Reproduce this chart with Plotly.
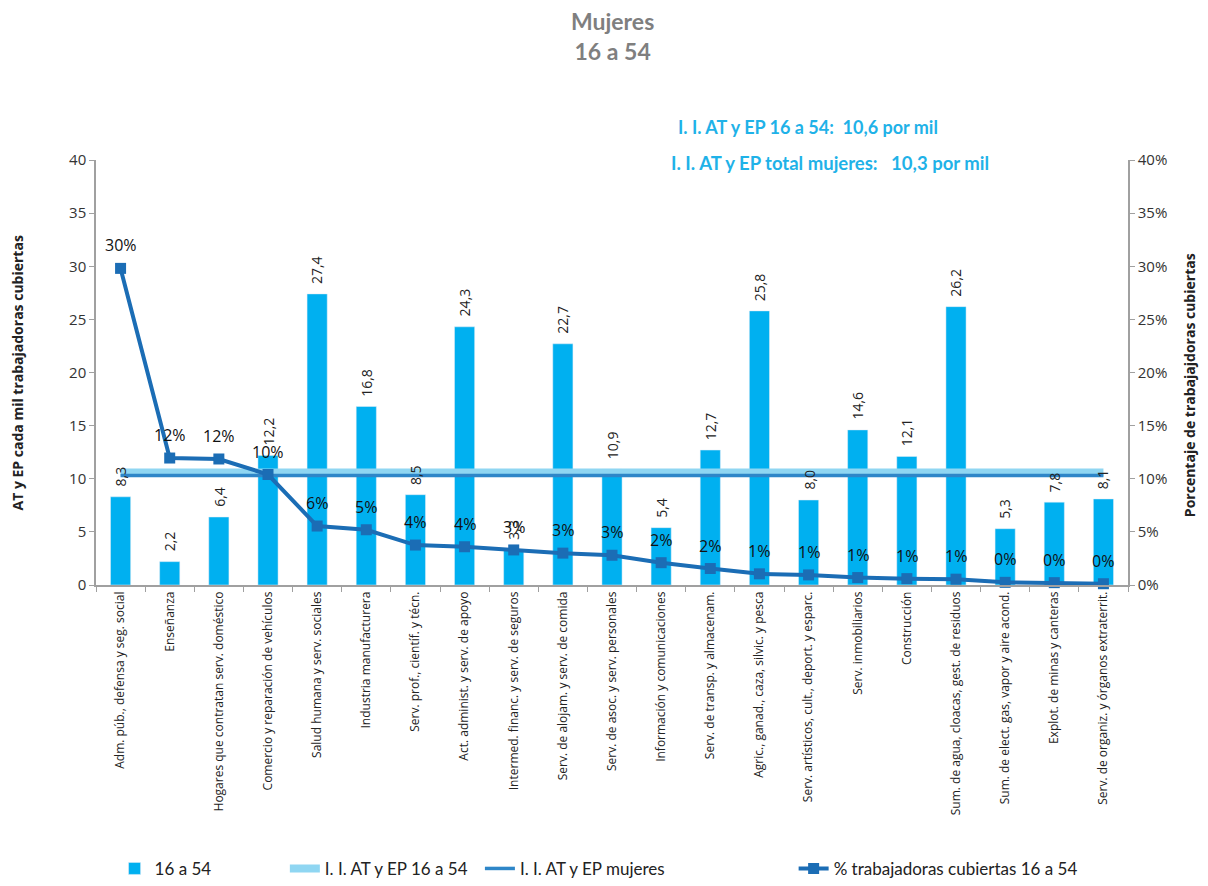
import plotly.graph_objects as go

categories = [
    "Adm. púb., defensa y seg. social",
    "Enseñanza",
    "Hogares que contratan serv. doméstico",
    "Comercio y reparación de vehículos",
    "Salud humana y serv. sociales",
    "Industria manufacturera",
    "Serv. prof., científ. y técn.",
    "Act. administ. y serv. de apoyo",
    "Intermed. financ. y serv. de seguros",
    "Serv. de alojam. y serv. de comida",
    "Serv. de asoc. y serv. personales",
    "Información y comunicaciones",
    "Serv. de transp. y almacenam.",
    "Agric., ganad., caza, silvic. y pesca",
    "Serv. artísticos, cult., deport. y esparc.",
    "Serv. inmobiliarios",
    "Construcción",
    "Sum. de agua, cloacas, gest. de residuos",
    "Sum. de elect. gas, vapor y aire acond.",
    "Explot. de minas y canteras",
    "Serv. de organiz. y órganos extraterrit.",
]
incidence_16_54 = [8.3, 2.2, 6.4, 12.2, 27.4, 16.8, 8.5, 24.3, 3.3, 22.7, 10.9,
                   5.4, 12.7, 25.8, 8.0, 14.6, 12.1, 26.2, 5.3, 7.8, 8.1]
pct_covered = [0.298, 0.1195, 0.1186, 0.104, 0.0555, 0.052, 0.0376, 0.036, 0.033,
               0.030, 0.028, 0.021, 0.0155, 0.0105, 0.0095, 0.007, 0.006, 0.0055,
               0.0025, 0.0022, 0.0012]
ii_16_54 = 10.6
ii_mujeres = 10.3

FONT = "Open Sans"
NARROW = "Lato"
fig = go.Figure()

fig.add_trace(go.Bar(
    x=categories, y=incidence_16_54, name="16 a 54", legend="legend",
    marker=dict(color="#00b0f0"), width=0.41,
))
fig.add_trace(go.Scatter(
    x=categories, y=[ii_16_54] * len(categories), name="I. I. AT y EP 16 a 54",
    legend="legend2",
    mode="lines", line=dict(color="#8fd6f2", width=8),
))
fig.add_trace(go.Scatter(
    x=categories, y=[ii_mujeres] * len(categories), name="I. I. AT y EP mujeres",
    legend="legend3",
    mode="lines", line=dict(color="#2e86c8", width=3.5),
))
fig.add_trace(go.Scatter(
    x=categories, y=pct_covered, name="% trabajadoras cubiertas 16 a 54",
    legend="legend4",
    mode="lines+markers", yaxis="y2",
    line=dict(color="#1b6db5", width=4),
    marker=dict(symbol="square", size=11, color="#1b6db5"),
    cliponaxis=False,
))

# value labels drawn as annotations so they sit above the reference lines
bar_labels = [
    dict(x=c, y=v, xref="x", yref="y", text=f"{v:.1f}".replace(".", ","),
         textangle=-90, yanchor="bottom", yshift=8, showarrow=False,
         font=dict(size=14, color="#222222", family=FONT))
    for c, v in zip(categories, incidence_16_54)
]
pct_labels = [
    dict(x=c, y=v, xref="x", yref="y2", text=f"{round(v * 100)}%", showarrow=False,
         yshift=23, font=dict(size=16, color="#111111", family=FONT))
    for c, v in zip(categories, pct_covered)
]

leg_common = dict(orientation="h", yanchor="middle", y=-0.668, xanchor="left",
                  font=dict(size=17, family=NARROW, color="#222222"),
                  bgcolor="rgba(0,0,0,0)", itemwidth=30)

# page body has an 8px margin: the figure is drawn at (8, 8)
fig.update_layout(
    width=1200, height=870,
    margin=dict(l=88, r=80, t=152, b=293, autoexpand=False),
    plot_bgcolor="white", paper_bgcolor="white",
    separators=",.",
    font=dict(family=FONT, color="#333333"),
    showlegend=True,
    legend=dict(leg_common, x=0.018),
    legend2=dict(leg_common, x=0.183),
    legend3=dict(leg_common, x=0.372),
    legend4=dict(leg_common, x=0.676),
    xaxis=dict(
        type="category", range=[-0.5, len(categories) - 0.5],
        tickangle=-90, tickfont=dict(size=12, color="#222222", family=FONT),
        showline=True, linecolor="#a0a0a0", linewidth=1.5, automargin=False,
        ticks="outside", tickson="boundaries", ticklen=5, tickcolor="#a0a0a0",
        showgrid=False,
    ),
    yaxis=dict(
        range=[0, 40], dtick=5, showgrid=False, zeroline=False, automargin=False,
        showline=True, linecolor="#a0a0a0", linewidth=1.5,
        ticks="outside", ticklen=5, tickcolor="#a0a0a0",
        tickfont=dict(size=15, color="#333333", family=FONT),
    ),
    yaxis2=dict(
        range=[0, 0.4], dtick=0.05, tickformat=".0%", overlaying="y", side="right",
        showgrid=False, zeroline=False, automargin=False,
        showline=True, linecolor="#a0a0a0", linewidth=1.5,
        ticks="outside", ticklen=5, tickcolor="#a0a0a0",
        tickfont=dict(size=15, color="#333333", family=FONT),
    ),
    annotations=bar_labels + pct_labels + [
        dict(text="<b>Mujeres</b><br><b>16 a 54</b>", x=0.5, y=1.292, xref="paper",
             yref="paper", xanchor="center", yanchor="middle", showarrow=False,
             font=dict(size=23, color="#7f7f7f", family=NARROW)),
        dict(text="<b>I. I. AT y EP 16 a 54:  10,6 por mil</b>", x=0.69, y=1.108,
             xref="paper", yref="paper", xanchor="center", showarrow=False,
             font=dict(size=18, color="#1fb2e8", family=NARROW)),
        dict(text="<b>I. I. AT y EP total mujeres:   10,3 por mil</b>", x=0.711, y=1.024,
             xref="paper", yref="paper", xanchor="center", showarrow=False,
             font=dict(size=18.5, color="#1fb2e8", family=NARROW)),
        dict(text="<b>AT y EP cada mil trabajadoras cubiertas</b>", textangle=-90,
             x=-0.0756, y=0.5, xref="paper", yref="paper", xanchor="center",
             showarrow=False, font=dict(size=14, color="#222222", family=FONT)),
        dict(text="<b>Porcentaje de trabajajdoras cubiertas</b>", textangle=-90,
             x=1.059, y=0.47, xref="paper", yref="paper", xanchor="center",
             showarrow=False, font=dict(size=14, color="#222222", family=FONT)),
    ],
)

fig.write_html("out.html")
